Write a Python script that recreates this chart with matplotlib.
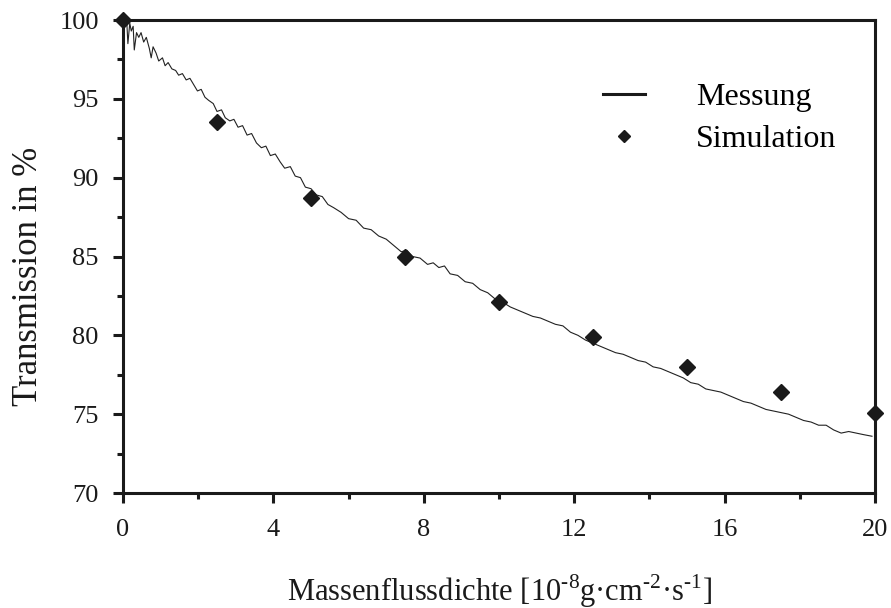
import numpy as np
import matplotlib
matplotlib.use("Agg")
import matplotlib.pyplot as plt
from matplotlib.lines import Line2D
from matplotlib.ticker import MultipleLocator

plt.rcParams['font.family'] = ['Liberation Serif', 'DejaVu Serif']
plt.rcParams['mathtext.fontset'] = 'custom'
plt.rcParams['mathtext.rm'] = 'Liberation Serif'

mess_x = [0.0, 0.05, 0.10, 0.13, 0.18, 0.22, 0.27, 0.30, 0.36, 0.42, 0.48, 0.55,
          0.62, 0.70, 0.75, 0.80, 0.88, 0.95, 1.05, 1.12, 1.20, 1.30, 1.40, 1.48,
          1.58, 1.68, 1.78, 1.88, 1.98, 2.08, 2.18, 2.28, 2.40, 2.50, 2.62, 2.72,
          2.84, 2.95, 3.06, 3.18, 3.30, 3.42, 3.55, 3.68, 3.80, 3.92, 4.05, 4.18,
          4.30, 4.45, 4.58, 4.72, 4.85, 5.00, 5.15, 5.30, 5.45, 5.60, 5.80, 6.00,
          6.20, 6.40, 6.60, 6.80, 7.00, 7.20, 7.40, 7.55, 7.70, 7.90, 8.10, 8.25,
          8.40, 8.55, 8.70, 8.90, 9.10, 9.30, 9.50, 9.70, 9.90, 10.10, 10.30, 10.50,
          10.70, 10.90, 11.10, 11.30, 11.50, 11.70, 11.90, 12.10, 12.30, 12.50, 12.70,
          12.90, 13.10, 13.30, 13.50, 13.70, 13.90, 14.10, 14.30, 14.50, 14.70, 14.90,
          15.10, 15.30, 15.50, 15.70, 15.90, 16.10, 16.30, 16.50, 16.70, 16.90, 17.10,
          17.30, 17.50, 17.70, 17.90, 18.10, 18.30, 18.50, 18.70, 18.90, 19.10, 19.30,
          19.50, 19.70, 19.92]
mess_y = [100.0, 99.6, 99.9, 98.5, 99.8, 99.3, 99.6, 98.1, 99.2, 98.9, 99.2, 98.6,
          98.9, 98.2, 97.6, 98.3, 97.9, 97.4, 97.6, 97.1, 97.3, 96.9, 96.8, 96.5,
          96.6, 96.2, 96.3, 95.9, 95.5, 95.6, 95.1, 94.9, 94.7, 94.2, 94.3, 93.8,
          93.6, 93.7, 93.2, 93.3, 92.7, 92.8, 92.2, 91.9, 92.0, 91.4, 91.5, 91.0,
          90.6, 90.7, 90.1, 90.0, 89.4, 89.3, 88.9, 88.8, 88.3, 88.1, 87.8, 87.4,
          87.3, 86.8, 86.7, 86.3, 86.1, 85.7, 85.3, 85.4, 85.0, 84.9, 84.5, 84.6,
          84.3, 84.4, 83.9, 83.8, 83.4, 83.3, 82.9, 82.7, 82.3, 82.1, 81.8, 81.6,
          81.4, 81.2, 81.1, 80.9, 80.7, 80.6, 80.2, 80.0, 79.7, 79.5, 79.3,
          79.1, 78.9, 78.8, 78.6, 78.4, 78.3, 78.0, 77.9, 77.7, 77.5, 77.3,
          77.0, 76.9, 76.6, 76.5, 76.4, 76.2, 76.0, 75.8, 75.7, 75.5, 75.3,
          75.2, 75.1, 75.0, 74.8, 74.6, 74.5, 74.3, 74.3, 74.0, 73.8, 73.9,
          73.8, 73.7, 73.6]

# Simulation points
sim_x = [0, 2.5, 5, 7.5, 10, 12.5, 15, 17.5, 20]
sim_y = [100.0, 93.5, 88.7, 85.0, 82.1, 79.9, 78.0, 76.4, 75.1]

x_ticks = [0, 4, 8, 12, 16, 20]
y_ticks = [70, 75, 80, 85, 90, 95, 100]

fig = plt.figure(figsize=(8.91, 6.08), dpi=100)
ax = fig.add_axes([123 / 891, 1 - 493 / 608, 752 / 891, 473 / 608])

ax.plot(mess_x, mess_y, color='#222222', lw=0.8)
ax.plot(sim_x, sim_y, linestyle='none', marker='D', markersize=8,
        color='#1a1a1a', clip_on=False, zorder=5)

ax.set_xlim(0, 20)
ax.set_ylim(70, 100)
ax.set_xticks(x_ticks)
ax.set_yticks(y_ticks)
ax.xaxis.set_minor_locator(MultipleLocator(2))
ax.yaxis.set_minor_locator(MultipleLocator(2.5))

for s in ax.spines.values():
    s.set_linewidth(2.2)
    s.set_color('#1a1a1a')
ax.tick_params(which='both', direction='out', width=2.2, color='#1a1a1a',
               labelsize=19, labelcolor='#1a1a1a')
ax.tick_params(which='major', length=7.5)
ax.tick_params(which='minor', length=4.5)
ax.tick_params(axis='x', pad=11)
ax.tick_params(axis='y', pad=10)

ax.set_xlabel(r'Massenflussdichte [10$^{\mathregular{\text{-}8}}$g·cm$^{\mathregular{\text{-}2}}$·s$^{\mathregular{\text{-}1}}$]',
              fontsize=22, color='#1a1a1a', va='top')
ax.xaxis.set_label_coords(0.5, (493 - 572) / 473)
ax.set_ylabel('Transmission in %', fontsize=25, color='#1a1a1a', va='center')
ax.yaxis.set_label_coords((29 - 123) / 752, 1 - (276 - 20) / 473)

handles = [Line2D([], [], color='#1a1a1a', lw=2.2),
           Line2D([], [], linestyle='none', marker='D', markersize=6, color='#1a1a1a')]
ax.legend(handles, ['Messung', 'Simulation'], loc='upper left',
          bbox_to_anchor=((603 - 123) / 752, 1 - (83 - 20) / 473),
          frameon=False, fontsize=23, borderpad=0, borderaxespad=0,
          handlelength=1.3, handletextpad=1.6, labelspacing=0.38)

fig.savefig('out.png', dpi=100)
